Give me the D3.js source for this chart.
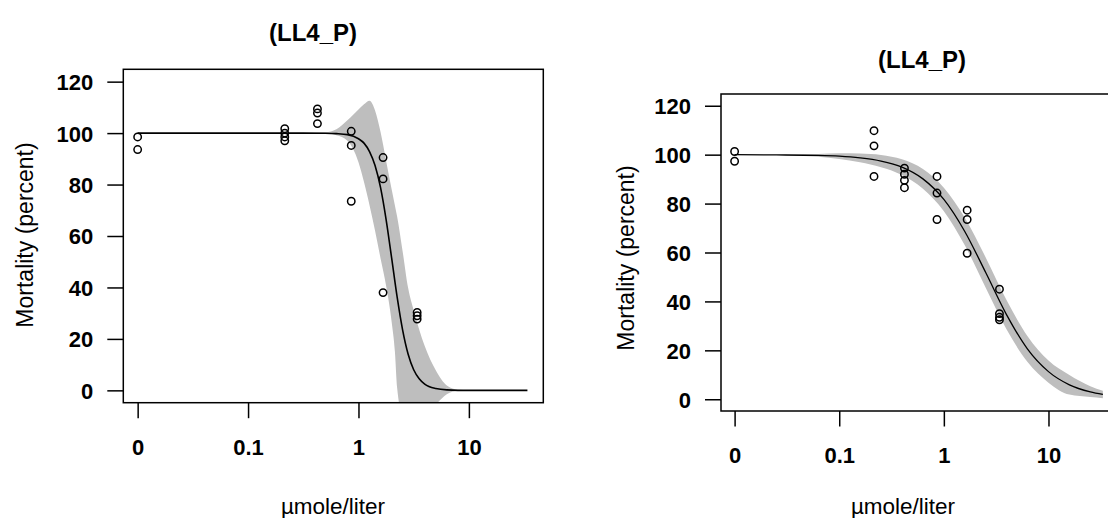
<!DOCTYPE html>
<html>
<head>
<meta charset="utf-8">
<script src="https://cdn.jsdelivr.net/npm/d3@7/dist/d3.min.js"></script>
<style>
  html, body { margin: 0; padding: 0; background: #ffffff; }
  svg { display: block; }
  text { font-family: Arial, "Liberation Sans", sans-serif; fill: #000; }
</style>
</head>
<body>
<svg id="chart" width="1108" height="518"></svg>
<script>
// ---------------- DATA ----------------
const titleText = "(LL4_P)";
const xAxisTitle = "µmole/liter";
const yAxisTitle = "Mortality (percent)";
const xTickValues = [0.01, 0.1, 1, 10];       // dose 0 is drawn at 0.01 (broken log axis)
const xTickLabels = ["0", "0.1", "1", "10"];
const yTickValues = [0, 20, 40, 60, 80, 100, 120];

// Left panel observations
const leftObsDose = [0, 0, 0.215, 0.215, 0.215, 0.215, 0.425, 0.425, 0.425, 0.86, 0.86, 0.86, 1.67, 1.67, 1.67, 3.4, 3.4, 3.4];
const leftObsResp = [98.5, 93.6, 101.7, 100, 98.5, 97, 109.4, 107.8, 103.7, 100.7, 95.2, 73.5, 90.5, 82.2, 38, 30.3, 29, 27.7];
// Left fitted curve
const leftCurveDose = [0.01, 0.1, 0.316, 0.501, 0.631, 0.794, 1, 1.122, 1.259, 1.413, 1.585, 1.778, 1.995, 2.239, 2.512, 2.818, 3.162, 3.548, 3.981, 5.012, 6.31, 10, 33.9];
const leftCurveResp = [100, 100, 100, 99.95, 99.8, 99.4, 97.8, 96.1, 92.8, 87.4, 78.8, 66.5, 51.6, 36.3, 23.4, 14.0, 8.0, 4.5, 2.4, 0.7, 0.2, 0, 0];
// Left confidence band
const leftBandDose  = [0.316, 0.501, 0.631, 0.794, 1, 1.122, 1.259, 1.413, 1.585, 1.778, 1.995, 2.138, 2.239, 2.512, 2.818, 3.162, 3.981, 5.012, 6.31, 7.943, 10];
const leftBandUpper = [100.0, 100.3, 101.5, 105.0, 109.2, 111.2, 112.6, 108.8, 100.4, 89.3, 78.3, 71.9, 67.6, 54.0, 39.8, 31.1, 17.2, 7.8, 1.9, 0.3, 0.0];
const leftBandLower = [100.0, 99.9, 99.2, 97.0, 88.7, 81.0, 72.0, 62.0, 51.3, 40.8, 26.8, 15.0, 1.0, -10, -12, -12, -10, -5.5, -1.5, -0.2, 0];

// Right panel observations
const rightObsDose = [0, 0, 0.215, 0.215, 0.215, 0.42, 0.42, 0.42, 0.42, 0.86, 0.86, 0.86, 1.67, 1.67, 1.67, 3.4, 3.4, 3.4, 3.4];
const rightObsResp = [101.3, 97.3, 109.8, 103.6, 91.1, 94.5, 92, 89.5, 86.5, 91.1, 84.3, 73.5, 77.3, 73.5, 59.7, 45, 35, 33.5, 32.5];
// Right fitted curve
const rightCurveDose = [0.01, 0.0251, 0.0631, 0.1, 0.158, 0.251, 0.398, 0.631, 1, 1.585, 2.512, 3.981, 6.31, 10, 15.85, 25.12, 33.1];
const rightCurveResp = [100, 99.9, 99.7, 99.4, 98.7, 97.4, 94.9, 90.1, 81.7, 68.6, 51.8, 34.5, 20.5, 11.3, 5.9, 3.0, 1.95];
// Right confidence band
const rightBandDose  = [0.0269, 0.0631, 0.1, 0.158, 0.251, 0.398, 0.631, 1, 1.585, 2.512, 3.981, 6.31, 10, 15.85, 25.12, 33.1];
const rightBandUpper = [99.9, 100.3, 100.6, 100.5, 99.9, 98.1, 94.1, 86.5, 74.2, 58.0, 40.5, 25.8, 15.8, 9.9, 5.3, 3.45];
const rightBandLower = [99.9, 99.1, 98.2, 96.9, 94.9, 91.7, 86.1, 76.9, 63.0, 45.6, 28.5, 15.2, 6.8, 1.9, 0.9, 0.45];

// ---------------- LAYOUT ----------------
const panels = [
  { id: "L", box: { left: 123.3, right: 543.3, top: 69.3, bottom: 402.7 },
    title: { x: 313, y: 41 }, xlab: { x: 333, y: 514 }, ylab: { x: 25, y: 235 },
    obsDose: leftObsDose, obsResp: leftObsResp,
    curveDose: leftCurveDose, curveResp: leftCurveResp,
    bandDose: leftBandDose, bandUpper: leftBandUpper, bandLower: leftBandLower,
    lineWidth: 1.6 },
  { id: "R", box: { left: 721, right: 1119, top: 94, bottom: 411 },
    title: { x: 922, y: 68 }, xlab: { x: 903, y: 514 }, ylab: { x: 626, y: 258 },
    obsDose: rightObsDose, obsResp: rightObsResp,
    curveDose: rightCurveDose, curveResp: rightCurveResp,
    bandDose: rightBandDose, bandUpper: rightBandUpper, bandLower: rightBandLower,
    lineWidth: 1.3 }
];

const svg = d3.select("#chart");
svg.append("rect").attr("width", 1108).attr("height", 518).attr("fill", "#fff");

const xLogMin = -2.13, xLogMax = 1.674;
const yMin = -4.8, yMax = 124.8;
const zeroAt = 0.01;
const dpos = d => (d === 0 ? zeroAt : d);

panels.forEach(p => {
  const b = p.box;
  const x = d3.scaleLog().domain([Math.pow(10, xLogMin), Math.pow(10, xLogMax)]).range([b.left, b.right]);
  const y = d3.scaleLinear().domain([yMin, yMax]).range([b.bottom, b.top]);
  const g = svg.append("g");

  const clipId = "clip" + p.id;
  svg.append("defs").append("clipPath").attr("id", clipId)
    .append("rect").attr("x", b.left).attr("y", b.top)
    .attr("width", b.right - b.left).attr("height", b.bottom - b.top);

  // band
  const bandData = p.bandDose.map((d, i) => ({ d, lo: p.bandLower[i], hi: p.bandUpper[i] }));
  g.append("path")
    .datum(bandData)
    .attr("clip-path", `url(#${clipId})`)
    .attr("fill", "#bebebe")
    .attr("stroke", "none")
    .attr("d", d3.area().x(v => x(v.d)).y0(v => y(v.lo)).y1(v => y(v.hi)).curve(d3.curveMonotoneX));

  // curve
  const curveData = p.curveDose.map((d, i) => ({ d, r: p.curveResp[i] }));
  g.append("path")
    .datum(curveData)
    .attr("fill", "none")
    .attr("stroke", "#000")
    .attr("stroke-width", p.lineWidth)
    .attr("d", d3.line().x(v => x(v.d)).y(v => y(v.r)).curve(d3.curveMonotoneX));

  // points
  g.selectAll("circle.obs")
    .data(p.obsDose.map((d, i) => ({ d, r: p.obsResp[i] })))
    .join("circle")
    .attr("class", "obs")
    .attr("cx", v => x(dpos(v.d)))
    .attr("cy", v => y(v.r))
    .attr("r", 3.7)
    .attr("fill", "none")
    .attr("stroke", "#000")
    .attr("stroke-width", 1.5);

  // box
  g.append("rect")
    .attr("x", b.left).attr("y", b.top)
    .attr("width", b.right - b.left).attr("height", b.bottom - b.top)
    .attr("fill", "none").attr("stroke", "#000").attr("stroke-width", 1.5);

  // axes
  const yAxis = d3.axisLeft(y).tickValues(yTickValues).tickSize(16).tickPadding(14).tickFormat(d3.format("d"));
  const ya = g.append("g").attr("transform", `translate(${b.left},0)`).call(yAxis);
  ya.select(".domain").remove();
  ya.selectAll(".tick line").attr("stroke", "#000").attr("stroke-width", 1.5);
  ya.selectAll(".tick text").attr("font-size", 22).attr("font-weight", "bold")
    .attr("font-family", "Arial, 'Liberation Sans', sans-serif").attr("dy", "0.36em");

  const xAxis = d3.axisBottom(x).tickValues(xTickValues).tickSize(15.5).tickPadding(21)
    .tickFormat((d, i) => xTickLabels[i]);
  const xa = g.append("g").attr("transform", `translate(0,${b.bottom})`).call(xAxis);
  xa.select(".domain").remove();
  xa.selectAll(".tick line").attr("stroke", "#000").attr("stroke-width", 1.5);
  xa.selectAll(".tick text").attr("font-size", 22).attr("font-weight", "bold")
    .attr("font-family", "Arial, 'Liberation Sans', sans-serif");

  // titles
  g.append("text").attr("x", p.title.x).attr("y", p.title.y)
    .attr("text-anchor", "middle").attr("font-size", 24).attr("font-weight", "bold")
    .text(titleText);
  g.append("text").attr("x", p.xlab.x).attr("y", p.xlab.y)
    .attr("text-anchor", "middle").attr("font-size", 22.5)
    .text(xAxisTitle);
  g.append("text")
    .attr("transform", `translate(${p.ylab.x},${p.ylab.y}) rotate(-90)`)
    .attr("text-anchor", "middle").attr("dy", "0.35em").attr("font-size", 23)
    .text(yAxisTitle);
});
</script>
</body>
</html>
